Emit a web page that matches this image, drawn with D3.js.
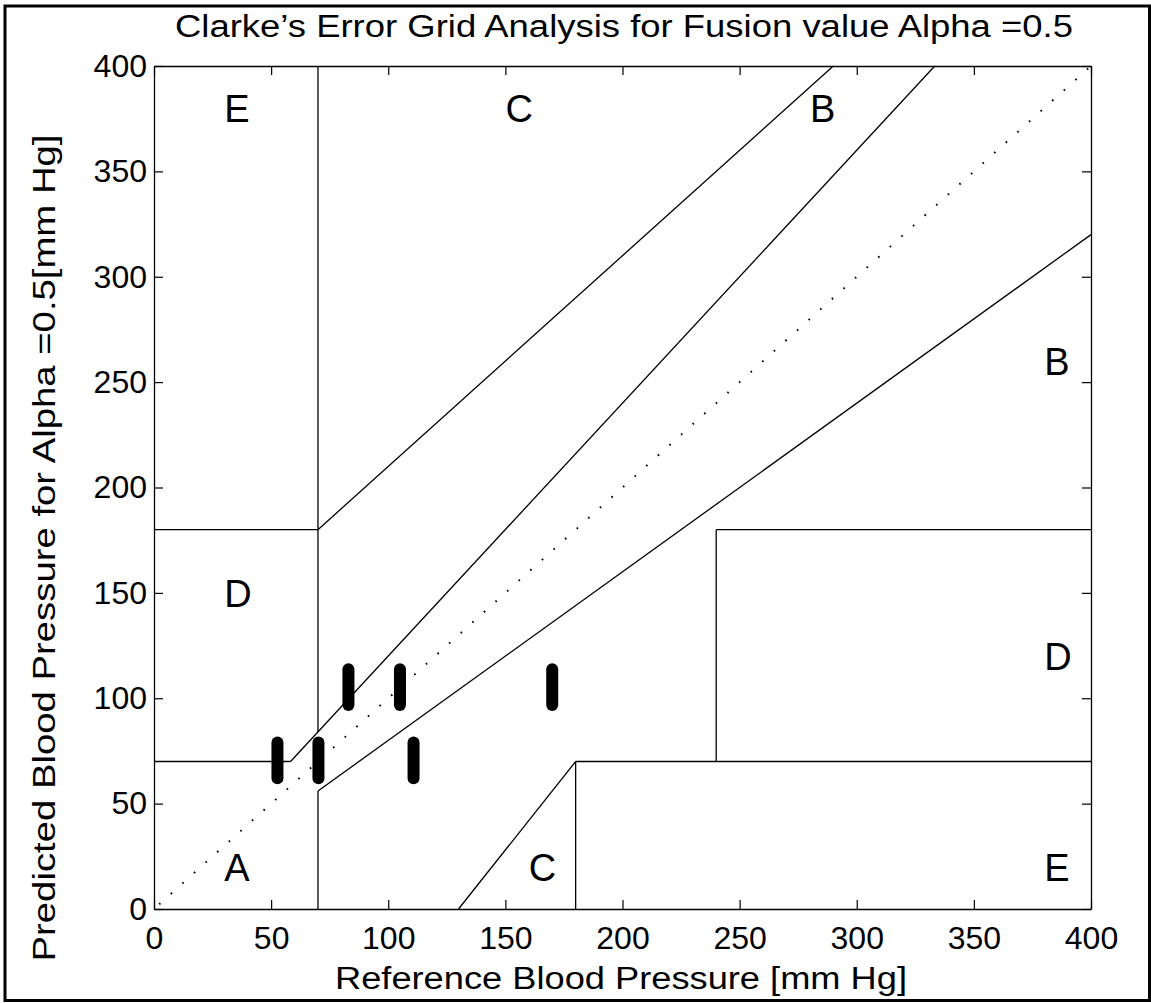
<!DOCTYPE html>
<html><head><meta charset="utf-8">
<script src="https://cdn.jsdelivr.net/npm/d3@7"></script>
<style>
body{margin:0;background:#fff}
svg{display:block}
text{font-family:"Liberation Sans",Arial,Helvetica,sans-serif;fill:#000}
</style>
</head><body>
<svg id="chart" width="1151" height="1003"></svg>
<script>
// ---- data ----
const titleText = "Clarke’s Error Grid Analysis for Fusion value Alpha =0.5";
const xLabelText = "Reference Blood Pressure [mm Hg]";
const yLabelText = "Predicted Blood Pressure for Alpha =0.5[mm Hg]";
const xTicks = [0, 50, 100, 150, 200, 250, 300, 350, 400];
const yTicks = [0, 50, 100, 150, 200, 250, 300, 350, 400];
const axisDomain = [0, 400];

// zone boundary segments: x1, y1, x2, y2 (data units)
const segX1 = [0,    58.3, 70,  0,   70,  70, 70,  180, 180, 240, 240, 130];
const segY1 = [70,   70,   84,  180, 180, 0,  56,  0,   70,  70,  180, 0];
const segX2 = [58.3, 333.3,70,  70,  290, 70, 400, 180, 400, 240, 400, 180];
const segY2 = [70,   400,  400, 180, 400, 56, 320, 70,  70,  180, 180, 70];

// identity line
const diagX = [0, 400];
const diagY = [0, 400];

// zone letters
const zoneNames = ["A", "D", "E", "C", "C", "E", "D", "B", "B"];
const zoneX     = [30,  30,  30,  150, 160, 380, 380, 380, 280];
const zoneY     = [20,  150, 380, 380, 20,  20,  120, 260, 380];

// measurements: reference value and predicted range
const refValues = [52.7, 70.2, 83.0, 105.0, 110.8, 170.0];
const predLow   = [62.0, 62.0, 96.8, 96.8,  62.0,  96.8];
const predHigh  = [79.0, 79.0, 113.8,113.8, 79.0,  113.8];

(function(){
// ---- layout ----
const W = 1151, H = 1003;
const mLeft = 154, mRight = 1091, mTop = 66, mBottom = 909;

const svg = d3.select("#chart");
svg.append("rect").attr("width", W).attr("height", H).attr("fill", "#fff");

// outer frame
svg.append("rect")
  .attr("x", 5).attr("y", 6)
  .attr("width", 1144.5).attr("height", 994.5)
  .attr("fill", "none").attr("stroke", "#000").attr("stroke-width", 3);

const x = d3.scaleLinear().domain(axisDomain).range([mLeft, mRight]);
const y = d3.scaleLinear().domain(axisDomain).range([mBottom, mTop]);

const plot = svg.append("g");

// dotted diagonal
plot.append("path")
  .attr("d", d3.line().x(d => x(d[0])).y(d => y(d[1]))(d3.zip(diagX, diagY)))
  .attr("fill", "none").attr("stroke", "#000").attr("stroke-width", 2)
  .attr("stroke-dasharray", "1.6 14").attr("stroke-dashoffset", -7);

// zone lines
plot.selectAll("line.zone")
  .data(d3.range(segX1.length))
  .join("line").attr("class", "zone")
  .attr("x1", i => x(segX1[i])).attr("y1", i => y(segY1[i]))
  .attr("x2", i => x(segX2[i])).attr("y2", i => y(segY2[i]))
  .attr("stroke", "#000").attr("stroke-width", 1.3);

// zone letters
plot.selectAll("text.zl")
  .data(d3.range(zoneNames.length))
  .join("text").attr("class", "zl")
  .attr("x", i => x(zoneX[i])).attr("y", i => y(zoneY[i]))
  .attr("dy", "0.36em")
  .attr("font-size", 38)
  .text(i => zoneNames[i]);

// measurement marks
plot.selectAll("line.mark")
  .data(d3.range(refValues.length))
  .join("line").attr("class", "mark")
  .attr("x1", i => x(refValues[i])).attr("x2", i => x(refValues[i]))
  .attr("y1", i => y(predLow[i])).attr("y2", i => y(predHigh[i]))
  .attr("stroke", "#000").attr("stroke-width", 12).attr("stroke-linecap", "round");

// axes
const fs = 32;
const axB = svg.append("g").attr("transform", `translate(0,${mBottom})`)
  .call(d3.axisBottom(x).tickValues(xTicks).tickSizeInner(-9).tickSizeOuter(0).tickPadding(17));
const axT = svg.append("g").attr("transform", `translate(0,${mTop})`)
  .call(d3.axisTop(x).tickValues(xTicks).tickSizeInner(-9).tickSizeOuter(0).tickFormat(""));
const axL = svg.append("g").attr("transform", `translate(${mLeft},0)`)
  .call(d3.axisLeft(y).tickValues(yTicks).tickSizeInner(-9).tickSizeOuter(0).tickPadding(7));
const axR = svg.append("g").attr("transform", `translate(${mRight},0)`)
  .call(d3.axisRight(y).tickValues(yTicks).tickSizeInner(-9).tickSizeOuter(0).tickFormat(""));

[axB, axT, axL, axR].forEach(a => {
  a.attr("font-family", null).attr("font-size", null);
  a.select(".domain").attr("stroke", "#000").attr("stroke-width", 1.3);
  a.selectAll(".tick line").attr("stroke", "#000").attr("stroke-width", 1.2);
  a.selectAll(".tick text").attr("font-size", fs).attr("fill", "#000");
});

// title
svg.append("text")
  .attr("x", 624).attr("y", 37)
  .attr("text-anchor", "middle")
  .attr("font-size", 31)
  .attr("textLength", 898).attr("lengthAdjust", "spacingAndGlyphs")
  .text(titleText);

// x label
svg.append("text")
  .attr("x", 621).attr("y", 989)
  .attr("text-anchor", "middle")
  .attr("font-size", 31)
  .attr("textLength", 572).attr("lengthAdjust", "spacingAndGlyphs")
  .text(xLabelText);

// y label
svg.append("text")
  .attr("transform", "translate(55,548) rotate(-90)")
  .attr("text-anchor", "middle")
  .attr("font-size", 31)
  .attr("textLength", 827).attr("lengthAdjust", "spacingAndGlyphs")
  .text(yLabelText);
})();
</script>
</body></html>
